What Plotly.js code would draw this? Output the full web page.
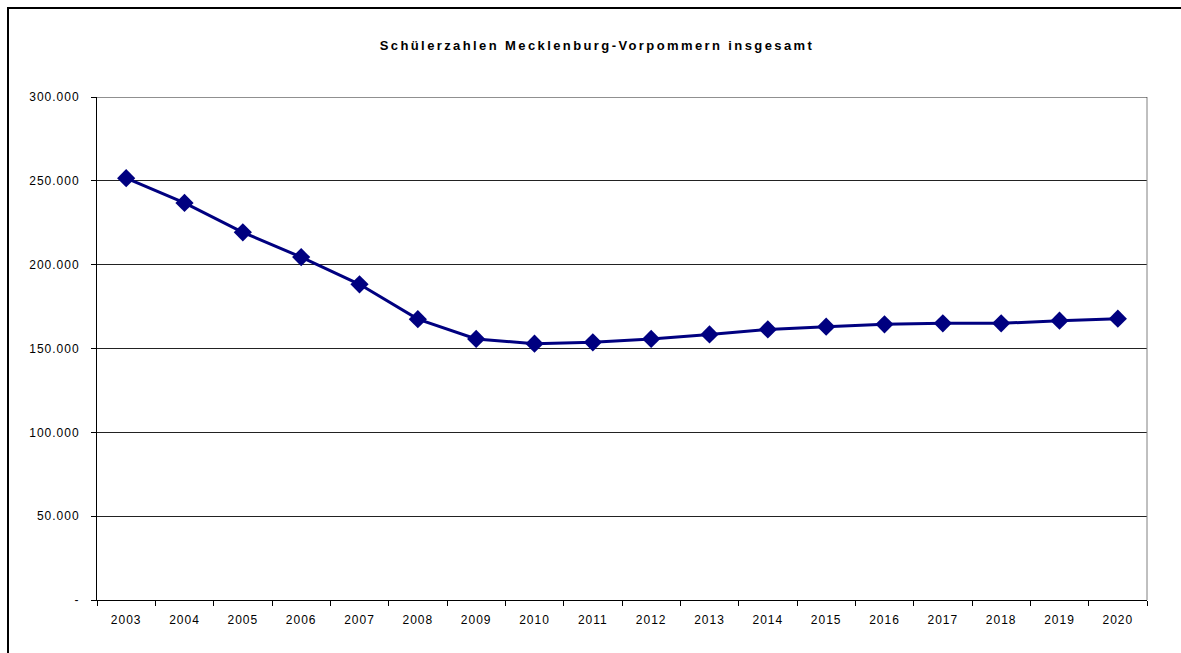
<!DOCTYPE html>
<html>
<head>
<meta charset="utf-8">
<script src="https://cdn.plot.ly/plotly-3.0.1.min.js"></script>
<style>
html,body{margin:0;padding:0;width:1181px;height:653px;overflow:hidden;background:#fff;}
#frame{position:absolute;left:7px;top:7px;width:1240px;height:720px;border:2px solid #000;box-sizing:border-box;}
#chart{position:absolute;left:0;top:0;width:1181px;height:653px;}
#chart .xtick text, #chart .ytick text{letter-spacing:1px;}
#chart .gtitle{letter-spacing:2.4px;}
</style>
</head>
<body>
<div id="frame"></div>
<div id="chart"></div>
<script>
const years = ["2003","2004","2005","2006","2007","2008","2009","2010","2011","2012","2013","2014","2015","2016","2017","2018","2019","2020"];
const pupils = [251600,236800,219300,204500,188300,167500,155700,152900,153700,155700,158400,161400,163000,164400,165000,165000,166600,167800];
const yTickVals = [0,50000,100000,150000,200000,250000,300000];
const yTickText = ["-","50.000","100.000","150.000","200.000","250.000","300.000"];

const trace = {
  x: years, y: pupils, type: "scatter", mode: "lines+markers",
  line: {color: "#000080", width: 3},
  marker: {symbol: "diamond", size: 14, color: "#000080"},
  hoverinfo: "x+y"
};
const layout = {
  width: 1181, height: 653,
  margin: {l: 97, r: 34, t: 97, b: 53},
  paper_bgcolor: "rgba(0,0,0,0)", plot_bgcolor: "rgba(0,0,0,0)",
  font: {family: "Liberation Sans, Arial, sans-serif", size: 12, color: "#000"},
  title: {text: "Schülerzahlen Mecklenburg-Vorpommern insgesamt", x: 597/1181, xref: "container", xanchor: "center",
    y: 1 - 45/653, yanchor: "middle",
    font: {family: "Liberation Sans, Arial, sans-serif", size: 13, color: "#000", weight: "bold"}},
  showlegend: false,
  xaxis: {type: "category", range: [-0.5, years.length - 0.5], tickson: "boundaries", ticks: "outside", ticklen: 5, tickcolor: "#000", tickwidth: 1,
    showline: true, linecolor: "#000", linewidth: 1, showgrid: false, zeroline: false,
    ticklabelstandoff: 9, tickfont: {size: 12}},
  yaxis: {range: [0, 300000], tickvals: yTickVals, ticktext: yTickText, ticks: "outside", ticklen: 5,
    tickcolor: "#000", tickwidth: 1, showline: true, linecolor: "#000", linewidth: 1,
    showgrid: true, gridcolor: "#222", gridwidth: 1, zeroline: false, ticklabelstandoff: 9, tickfont: {size: 12}},
  shapes: [
    {type: "line", xref: "paper", yref: "paper", x0: 1, x1: 1, y0: 0, y1: 1, line: {color: "#808080", width: 1}},
    {type: "line", xref: "paper", yref: "y", x0: 0, x1: 1, y0: 300000, y1: 300000, line: {color: "#222", width: 1}}
  ]
};
Plotly.newPlot("chart", [trace], layout, {displayModeBar: false, staticPlot: true});
</script>
</body>
</html>
